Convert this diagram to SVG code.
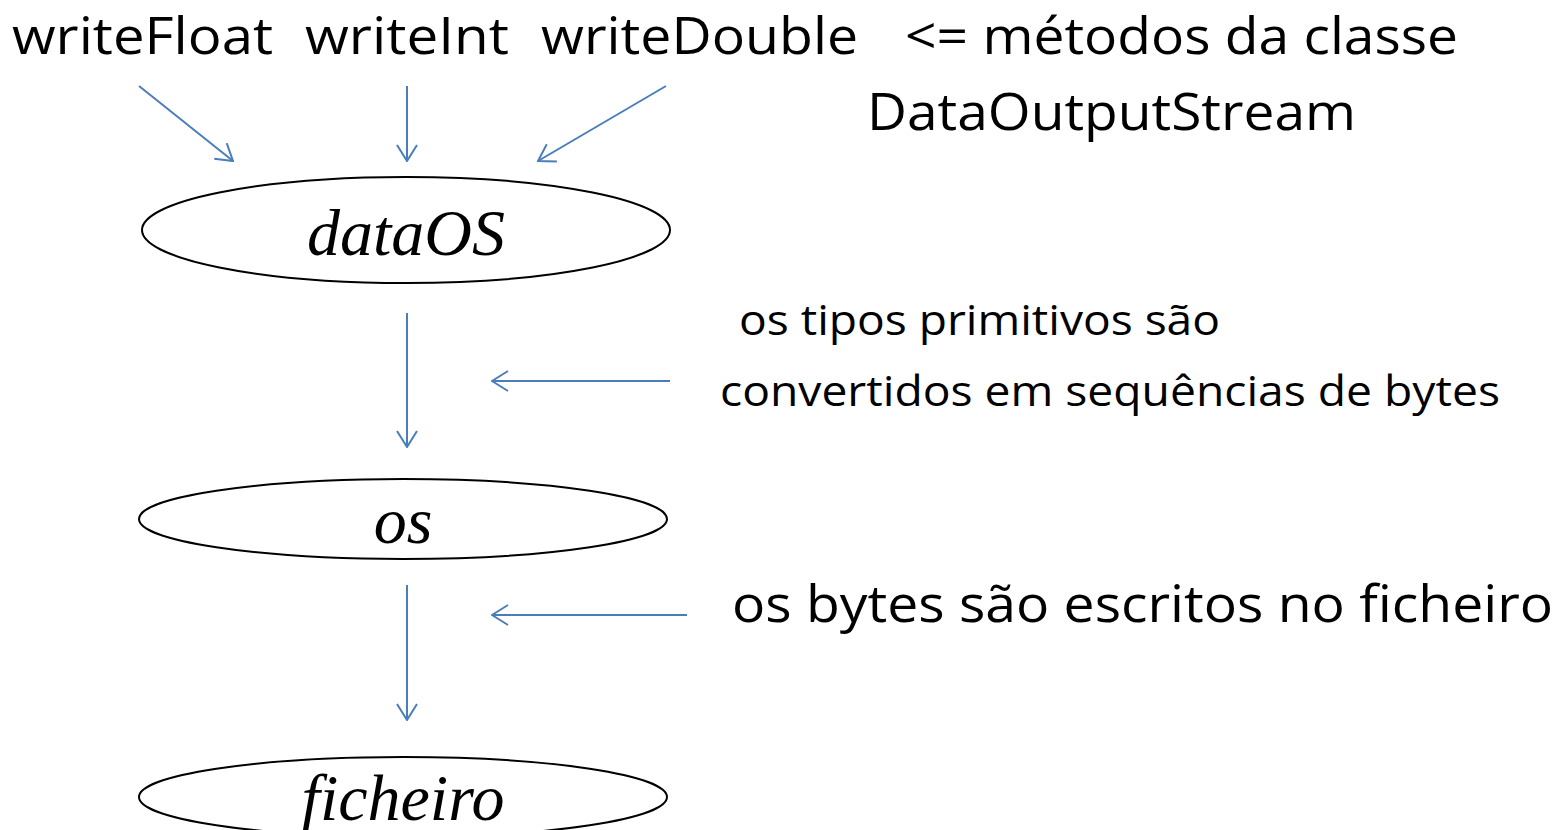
<svg xmlns="http://www.w3.org/2000/svg" width="1560" height="830" viewBox="0 0 1560 830">
<style>
.lbl{font-family:"Open Sans","Noto Sans",sans-serif;fill:#000}
.nd{fill:#fff;stroke:#000;stroke-width:2}
.nt{font-family:"Liberation Serif","Times New Roman",serif;font-style:italic;fill:#000;text-anchor:middle}
.cn{stroke:#4a7ebb;stroke-width:2;fill:none}
</style>
<defs>
<marker id="ah" viewBox="0 0 18 22" refX="17" refY="11" markerWidth="18" markerHeight="22" markerUnits="userSpaceOnUse" orient="auto">
<path d="M1,1 L17,11 L1,21" fill="none" stroke="#4a7ebb" stroke-width="2"/>
</marker>
</defs>
<rect width="1560" height="830" fill="#fff"/>
<g id="labels">
<text class="lbl" x="12" y="54" font-size="52" textLength="261" lengthAdjust="spacingAndGlyphs">writeFloat</text>
<text class="lbl" x="305" y="54" font-size="52" textLength="204" lengthAdjust="spacingAndGlyphs">writeInt</text>
<text class="lbl" x="541" y="54" font-size="52" textLength="317" lengthAdjust="spacingAndGlyphs">writeDouble</text>
<text class="lbl" x="905" y="54" font-size="52" textLength="553" lengthAdjust="spacingAndGlyphs">&lt;= métodos da classe</text>
<text class="lbl" x="867" y="130" font-size="52" textLength="489" lengthAdjust="spacingAndGlyphs">DataOutputStream</text>
<text class="lbl" x="739" y="335" font-size="42" textLength="481" lengthAdjust="spacingAndGlyphs">os tipos primitivos são</text>
<text class="lbl" x="720" y="406" font-size="42" textLength="780" lengthAdjust="spacingAndGlyphs">convertidos em sequências de bytes</text>
<text class="lbl" x="732" y="622" font-size="52" textLength="821" lengthAdjust="spacingAndGlyphs">os bytes são escritos no ficheiro</text>
</g>
<g id="node-dataOS">
<ellipse class="nd" cx="406" cy="230" rx="264" ry="53"/>
<text class="nt" x="406" y="255" font-size="66">dataOS</text>
</g>
<g id="node-os">
<ellipse class="nd" cx="403" cy="519" rx="264" ry="40"/>
<text class="nt" x="403" y="543" font-size="66">os</text>
</g>
<g id="node-ficheiro">
<ellipse class="nd" cx="403" cy="797" rx="264" ry="40"/>
<text class="nt" x="403" y="820" font-size="66">ficheiro</text>
</g>
<g id="connectors">
<line class="cn" x1="139" y1="86" x2="233" y2="161" marker-end="url(#ah)"/>
<line class="cn" x1="407" y1="86" x2="407" y2="161" marker-end="url(#ah)"/>
<line class="cn" x1="666" y1="86" x2="538" y2="161" marker-end="url(#ah)"/>
<line class="cn" x1="407" y1="313" x2="407" y2="447" marker-end="url(#ah)"/>
<line class="cn" x1="670" y1="381" x2="492" y2="381" marker-end="url(#ah)"/>
<line class="cn" x1="407" y1="585" x2="407" y2="720" marker-end="url(#ah)"/>
<line class="cn" x1="687" y1="615" x2="492" y2="615" marker-end="url(#ah)"/>
</g>
</svg>
